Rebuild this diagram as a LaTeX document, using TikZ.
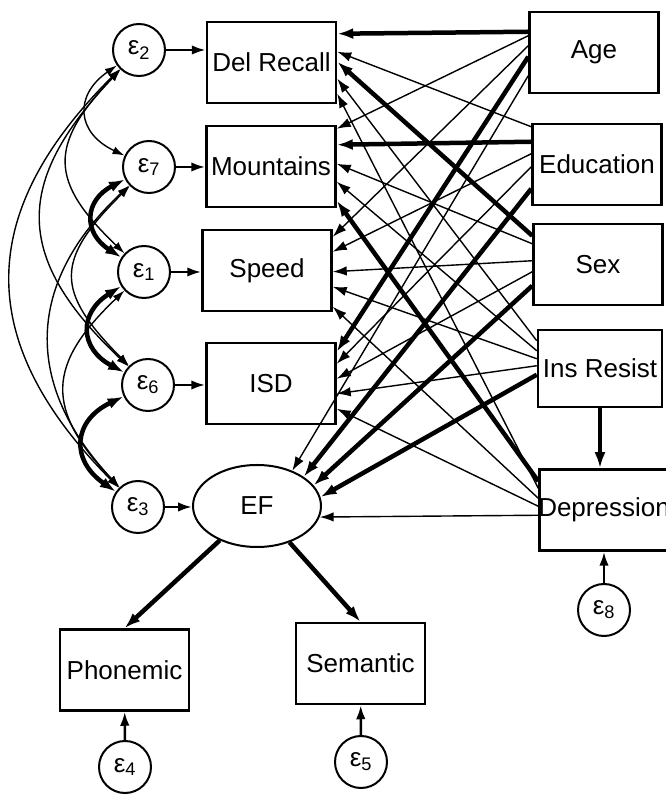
\documentclass[tikz,border=0pt]{standalone}
\usepackage{fontspec}
\setmainfont{Liberation Sans}
\usetikzlibrary{calc,shapes.geometric,arrows.meta}

\newcommand{\epsi}[1]{ε\textsubscript{#1}}

\tikzset{
  caja/.style={draw,line width=2.5pt,minimum width=129pt,minimum height=81pt,
    inner sep=0pt,font=\fontsize{26}{30}\selectfont},
  latente/.style={ellipse,draw,line width=2pt,minimum width=128pt,
    minimum height=82pt,inner sep=0pt,font=\fontsize{26}{30}\selectfont},
  err/.style={circle,draw,line width=2pt,minimum size=52pt,inner sep=0pt,
    font=\fontsize{26}{30}\selectfont},
  fino/.style={line width=1.4pt},
  medio/.style={line width=2.5pt},
  grueso/.style={line width=4.5pt,>={Latex[length=16pt,width=11pt]}},
  cov/.style={<->,>={Latex[length=12pt,width=8pt]}}
}

\begin{document}
\begin{tikzpicture}[x=1pt,y=1pt,>={Latex[length=14pt,width=9.5pt]}]

  % Ventana del dibujo
  \useasboundingbox (0,0) rectangle (666,795);

  % Indicadores y factor latente
  \node[caja] (dr) at (271.5,732.5) {Del Recall};
  \node[caja] (mt) at (271,628.5) {Mountains};
  \node[caja] (sp) at (267,524.5) {Speed};
  \node[caja] (isd) at (271,411.5) {ISD};
  \node[latente] (ef) at (257,289) {EF};
  \node[caja] (phon) at (124.5,125) {Phonemic};
  \node[caja] (sem) at (360.5,131.5) {Semantic};

  % Predictores
  \node[caja] (age) at (594,742.5) {Age};
  \node[caja] (edu) at (597,630.5) {Education};
  \node[caja] (sex) at (598,530.5) {Sex};
  \node[caja,minimum width=124pt,minimum height=77pt] (ins) at (600,426.5) {Ins Resist};
  \node[caja,label={[font=\fontsize{26}{30}\selectfont]center:Depression}] (dep) at (604,285) {};

  % Errores
  \node[err] (e2) at (139,745) {\epsi{2}};
  \node[err] (e7) at (149,628) {\epsi{7}};
  \node[err] (e1) at (144,523) {\epsi{1}};
  \node[err] (e6) at (148,410) {\epsi{6}};
  \node[err] (e3) at (138,288) {\epsi{3}};
  \node[err] (e8) at (604,185) {\epsi{8}};
  \node[err] (e4) at (125,28) {\epsi{4}};
  \node[err] (e5) at (361,33) {\epsi{5}};

  % Errores hacia sus variables
  \foreach \e/\v in {e2/dr,e7/mt,e1/sp,e6/isd,e3/ef}
    \draw[->,medio] (\e) -- (\e -| \v.west);
  \draw[->,medio] (e4) -- (phon);
  \draw[->,medio] (e5) -- (sem);
  \draw[->,medio] (e8) -- (e8 |- dep.south);

  % Covarianzas entre errores
  \foreach \a/\b/\ang/\lo/\w in {e2/e7/60/1.5/fino,e7/e1/60/1.5/grueso,
      e1/e6/60/1.5/grueso,e6/e3/60/1.5/grueso,e2/e1/45/1.45/fino,
      e7/e6/45/1.5/fino,e1/e3/45/1.4/fino,e2/e6/45/1.35/fino,
      e7/e3/45/1.2/fino,e2/e3/45/1.25/fino}
    \draw[cov,\w] (\a) to[bend right=\ang,looseness=\lo] (\b);

  % Regresiones sobre los indicadores
  \foreach \s/\so/\d/\dof/\w in {age/21/dr/13/grueso,age/25/mt/4/fino,
      age/35/sp/8/fino,age/46/isd/10/grueso,edu/4/dr/31/fino,
      edu/19/mt/20/grueso,edu/31/sp/23/fino,edu/44/isd/22/fino,
      sex/13/dr/41/grueso,sex/21/mt/39/fino,sex/38/sp/43/fino,
      sex/49/isd/37/fino,ins/12/dr/58/fino,ins/22/mt/57/fino,
      ins/30/sp/58/fino,ins/37/isd/52/fino,dep/20/dr/73/fino,
      dep/13/mt/76/grueso,dep/30/sp/78/fino,dep/38/isd/67/fino}
    \draw[->,\w] ($(\s.north west)+(0,-\so)$) -- ($(\d.north east)+(0,-\dof)$);

  % Regresiones sobre EF
  \foreach \s/\so/\ang/\w in {age/65/45/fino,edu/66/32/grueso,
      sex/63/20/grueso,ins/46/8/grueso,dep/47/-10/fino}
    \draw[->,\w] ($(\s.north west)+(0,-\so)$) -- (ef.\ang);

  % Cargas del factor y efecto de Ins Resist
  \draw[->,grueso] (ef) -- (phon.north);
  \draw[->,grueso] (ef) -- (sem.north);
  \draw[->,grueso] (ins.south) -- (ins.south |- dep.north);

\end{tikzpicture}
\end{document}
